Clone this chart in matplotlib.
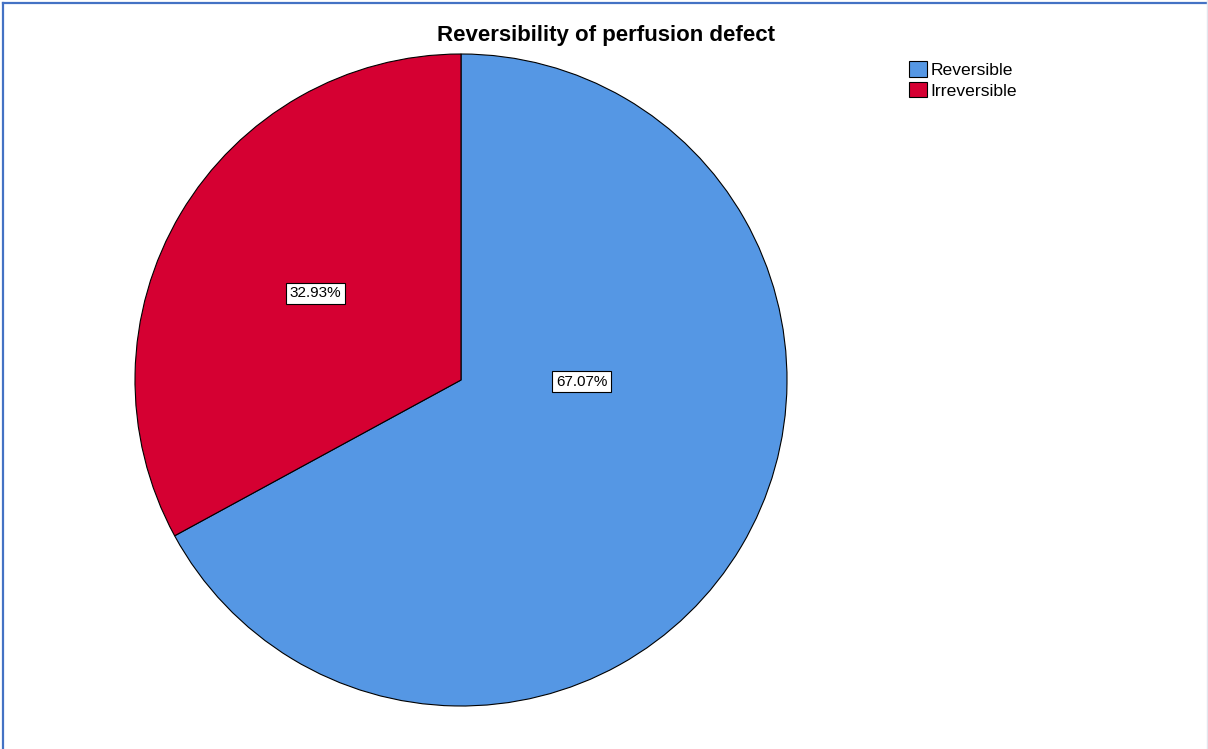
import matplotlib.pyplot as plt
from matplotlib.lines import Line2D
from matplotlib.patches import Patch
import numpy as np

# Reversibility of perfusion defect (percent of cases)
categories = ['Reversible', 'Irreversible']
percents = [67.07, 32.93]
colors = ['#5597E4', '#D50032']

plt.rcParams['font.family'] = ['Liberation Sans', 'DejaVu Sans']

W, H = 1208, 749
fig = plt.figure(figsize=(W / 100, H / 100), dpi=100)
fig.patch.set_facecolor('white')

# pie centred at (461, 380) px with radius 326 px
cx, cy, r = 461, 380, 326
ax = fig.add_axes([(cx - r) / W, (H - cy - r) / H, 2 * r / W, 2 * r / H])
wedges, _ = ax.pie(percents, colors=colors, startangle=90, counterclock=False,
                   wedgeprops=dict(edgecolor='black', linewidth=0.8))
ax.set_xlim(-1, 1)
ax.set_ylim(-1, 1)
ax.set_aspect('equal')
ax.axis('off')

# percentage labels in boxed text
box = dict(boxstyle='square,pad=0.25', facecolor='white', edgecolor='black', linewidth=0.8)
red = wedges[1]
mid = np.deg2rad((red.theta1 + red.theta2) / 2)
ax.text(0.52 * np.cos(mid), 0.52 * np.sin(mid), f'{percents[1]:.2f}%',
        ha='center', va='center', fontsize=11, bbox=box)
ax.text(0.37, -0.005, f'{percents[0]:.2f}%', ha='center', va='center',
        fontsize=11, bbox=box)

fig.text(606 / W, 1 - 36 / H, 'Reversibility of perfusion defect', ha='center',
         va='center', fontsize=16, fontweight='bold')

handles = [Patch(facecolor=c, edgecolor='black', linewidth=0.8, label=l)
           for c, l in zip(colors, categories)]
fig.legend(handles=handles, loc='upper left', bbox_to_anchor=(902 / W, 1 - 54 / H),
           frameon=False, fontsize=12.6, handlelength=1.03, handleheight=1.0,
           handletextpad=0.2, labelspacing=0.22, borderaxespad=0)

# outer frame lines
fig.add_artist(Line2D([2.5 / W, 2.5 / W], [0, 1 - 2.5 / H], color='#4472C4', linewidth=1.6))
fig.add_artist(Line2D([2.5 / W, 1], [1 - 2.5 / H, 1 - 2.5 / H], color='#4472C4', linewidth=1.6))
fig.add_artist(Line2D([1 - 1.5 / W, 1 - 1.5 / W], [0, 1], color='#E4E4EC', linewidth=1))

fig.savefig('out.png', dpi=100)
